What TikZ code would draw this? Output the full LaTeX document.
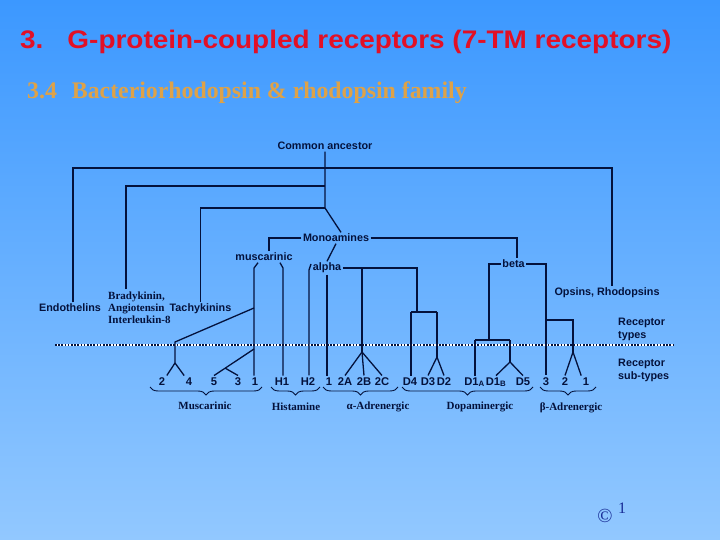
\documentclass[tikz,border=0pt]{standalone}
\usepackage{fontspec}
\setmainfont{Liberation Serif}
\setsansfont{Liberation Sans}
\newfontfamily\titlefont{Liberation Sans}[FakeStretch=1.1]
\usetikzlibrary{positioning,decorations.pathreplacing,calc}
\definecolor{BgTop}{RGB}{60,152,255}
\definecolor{BgBot}{RGB}{146,200,255}
\definecolor{TreeInk}{RGB}{4,18,60}
\definecolor{TitleRed}{RGB}{226,16,38}
\definecolor{SubGold}{RGB}{222,162,72}
\definecolor{MarkBlue}{RGB}{24,44,150}

\begin{document}
\begin{tikzpicture}[
x=1pt,y=-1pt,
lbl/.style={font=\fontsize{10.8}{13}\selectfont\sffamily\bfseries,text=TreeInk,inner sep=1.5pt},
leaf/.style={font=\fontsize{11.2}{12}\selectfont\sffamily\bfseries,text=TreeInk,inner sep=1.5pt,anchor=base},
grp/.style={font=\fontsize{11}{11.6}\selectfont\rmfamily\bfseries,text=TreeInk,inner sep=1pt},
link/.style={draw=TreeInk,line width=1.3pt},
brc/.style={draw=TreeInk,line width=0.9pt,decorate,decoration={brace,amplitude=8pt}}
]
\useasboundingbox (0,0) rectangle (720,540);
\shade[top color=BgTop,bottom color=BgBot] (0,0) rectangle (720,540);
% headings
\node[anchor=base west,inner sep=0,text=TitleRed,font=\titlefont\bfseries\fontsize{25.4}{28}\selectfont] (title) at (20,48.5) {3.\hspace{24pt}G-protein-coupled receptors (7-TM receptors)};
\node[anchor=base west,inner sep=0,text=SubGold,font=\rmfamily\bfseries\fontsize{23.8}{26}\selectfont] (subt) at (27,98.3) {3.4\hspace{15pt}Bacteriorhodopsin \& rhodopsin family};
% tree labels
\node[lbl] (ca) at (325,146) {Common ancestor};
\node[lbl] (mono) at (336,238) {Monoamines};
\node[lbl] (musc) at (264,257) {muscarinic};
\node[lbl] (alpha) at (327,268) {alpha};
\node[lbl] (beta) at (513.5,264) {beta};
\node[lbl] (endo) at (70,308) {Endothelins};
\node[grp,align=left,anchor=north west] (brady) at (107,291) {Bradykinin,\\Angiotensin\\Interleukin-8};
\node[lbl] (tachy) at (200.5,309) {Tachykinins};
\node[lbl] (opsin) at (607,293) {Opsins, Rhodopsins};
\node[lbl,align=left,anchor=west] (rtype) at (616.5,329.5) {Receptor\\types};
\node[lbl,align=left,anchor=west] (rsub) at (616.5,370.5) {Receptor\\sub-types};
% sub-types
\foreach \n/\x/\t in {m2/162/2,m4/189/4,m5/214/5,m3/238/3,m1/255/1,h1/282/H1,h2/308/H2,a1/329/1,a2a/345/2A,a2b/364/2B,a2c/382/2C,d4/410/D4,d3/428/D3,d2/444/D2,d1a/474.5/{D1\textsubscript{A}},d1b/496/{D1\textsubscript{B}},d5/523/D5,b3/546/3,b2/565/2,b1/586/1}
  \node[leaf] (\n) at (\x,385) {\t};
% separator
\coordinate (dl) at (55,345);
\coordinate (dr) at (673,345);
\draw[white,line width=1.5pt] (dl) -- (dr);
\draw[TreeInk,line width=1.5pt,dash pattern=on 1.6pt off 1.6pt] (dl) -- (dr);
% trunk
\coordinate (r1) at (325,168);
\coordinate (r2) at (325,186);
\coordinate (r3) at (325,208);
\coordinate (bra) at (126,289);
\draw[link] (ca) -- (r3) -- ([xshift=5pt]mono.north);
\draw[link] ([xshift=3pt]endo.north) |- (r1) -| ([xshift=5pt]opsin.north);
\draw[link] (bra) |- (r2);
\draw[link] (tachy.north) |- (r3);
% monoamines
\draw[link] (mono.west) -| ([xshift=5pt]musc.north);
\draw[link] (mono.east) -| ([xshift=3.5pt]beta.north);
\draw[link] (mono.south) -- (alpha.north);
% muscarinic / histamine
\coordinate (mL) at (254,268);
\coordinate (mR) at (283,268);
\coordinate (hk) at (311,264);
\coordinate (hL) at (309,270);
\draw[link] ([xshift=-6pt]musc.south) -- (mL) -- (mL |- m1.north);
\draw[link] ([xshift=16pt]musc.south) -- (mR) -- (mR |- h1.north);
\draw[link] (hk) -- (hL) -- (hL |- h2.north);
\coordinate (mD) at (254,308);
\coordinate (m24t) at (175,342);
\coordinate (m24) at (175,363);
\coordinate (mS) at (254,349);
\draw[link] (mD) -- (m24t) -- (m24);
\draw[link] (m24) -- (m2.north east);
\draw[link] (m24) -- (m4.north west);
\draw[link] (mS) -- (m5.north) coordinate[pos=.72] (m53);
\draw[link] (m53) -- (m3.north);
% alpha
\coordinate (aR) at (417,268);
\coordinate (a2t) at (362,268);
\coordinate (a2j) at (362,352);
\coordinate (dL) at (411,312);
\coordinate (dR) at (437,312);
\coordinate (d32) at (437,357);
\draw[link] (alpha.south) -- (alpha.south |- a1.north);
\draw[link] (alpha.east) -- (aR) -- (aR |- dL);
\draw[link] (a2t) -- (a2j);
\foreach \n in {a2a,a2b,a2c} \draw[link] (a2j) -- (\n.north);
\draw[link] (dL) -- (dR);
\draw[link] (dL) -- (dL |- d4.north);
\draw[link] (dR) -- (d32);
\foreach \n in {d3,d2} \draw[link] (d32) -- (\n.north);
% beta
\coordinate (bJ) at (489,340);
\coordinate (d1L) at (475,340);
\coordinate (d1R) at (510,340);
\coordinate (d15) at (510,362);
\coordinate (bS) at (545,320);
\coordinate (b21) at (573,352);
\draw[link] (beta.west) -| (bJ);
\draw[link] (d1L) -- (d1R);
\draw[link] (d1L) -- (d1L |- d1a.north);
\draw[link] (d1R) -- (d15);
\foreach \n in {d1b,d5} \draw[link] (d15) -- (\n.north);
\draw[link] (beta.east) -| (b3.north);
\draw[link] (bS) -| (b21);
\draw[link] (b21) -- (b2.north);
\draw[link] (b21) -- (b1.north west);
% families
\foreach \a/\b in {262/150,320/271,398/323,533/402,596/540}
  \draw[brc] (\a,387) -- (\b,387);
\node[grp] (gmus) at (205,406) {Muscarinic};
\node[grp] (ghis) at (296,407) {Histamine};
\node[grp] (galp) at (378,407) {α-Adrenergic};
\node[grp] (gdop) at (480,407) {Dopaminergic};
\node[grp] (gbet) at (571,408) {β-Adrenergic};
% mark
\node[inner sep=0,text=MarkBlue,font=\rmfamily\fontsize{20}{22}\selectfont] (copy) at (605,515.5) {©};
\node[anchor=base west,inner sep=0,text=MarkBlue,font=\rmfamily\fontsize{16}{18}\selectfont] (pnum) at (618,513) {1};
\end{tikzpicture}
\end{document}
